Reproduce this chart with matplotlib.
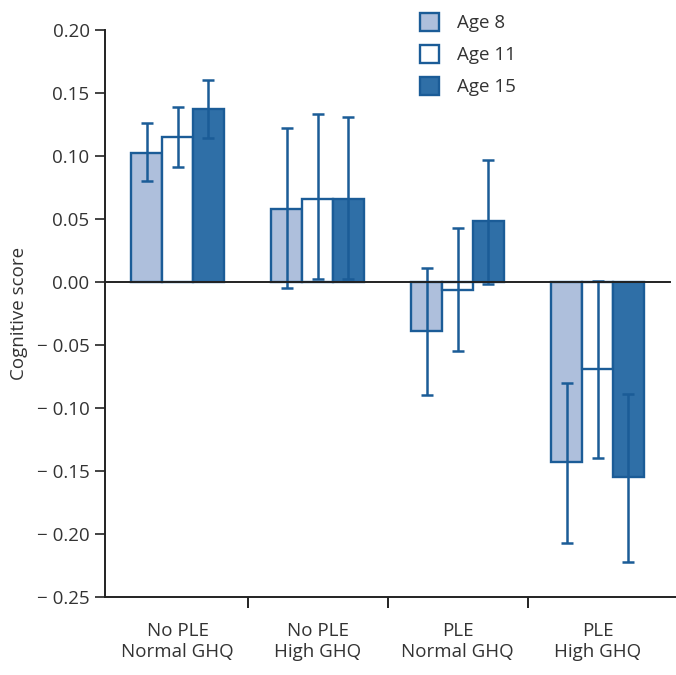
import numpy as np
import matplotlib.pyplot as plt

groups = ['No PLE\nNormal GHQ', 'No PLE\nHigh GHQ', 'PLE\nNormal GHQ', 'PLE\nHigh GHQ']
ages = ['Age 8', 'Age 11', 'Age 15']

# mean cognitive score per group, one list per age
age8 = [0.102, 0.058, -0.039, -0.143]
age11 = [0.115, 0.066, -0.006, -0.069]
age15 = [0.137, 0.066, 0.048, -0.155]

# confidence interval ends
age8_lo = [0.080, -0.005, -0.090, -0.207]
age8_hi = [0.126, 0.122, 0.011, -0.080]
age11_lo = [0.091, 0.002, -0.055, -0.140]
age11_hi = [0.139, 0.133, 0.043, 0.001]
age15_lo = [0.114, 0.002, -0.002, -0.222]
age15_hi = [0.160, 0.131, 0.097, -0.089]

edge = '#1b5c97'
fills = ['#aebfdc', '#ffffff', '#2f6fa7']
txt = '#333333'

plt.rcParams['font.family'] = ['Open Sans', 'DejaVu Sans']

fig = plt.figure(figsize=(6.76, 6.75), dpi=100)
ax = fig.add_axes([0.155, 0.1156, 0.845, 0.84])

x = np.arange(len(groups))
w = 0.22
means = [age8, age11, age15]
los = [age8_lo, age11_lo, age15_lo]
his = [age8_hi, age11_hi, age15_hi]
for i in range(3):
    m = np.array(means[i])
    err = [m - np.array(los[i]), np.array(his[i]) - m]
    pos = x + (i - 1) * w
    ax.bar(pos, m, width=w, color=fills[i], edgecolor=edge, linewidth=1.7,
           label=ages[i], zorder=2)
    ax.errorbar(pos, m, yerr=err, fmt='none', ecolor=edge, elinewidth=1.8,
                capsize=4, capthick=1.8, zorder=3)

ax.axhline(0, color='#222222', linewidth=1.4, zorder=4, xmax=0.99)

ax.set_xlim(-0.52, 3.56)
ax.set_ylim(-0.25, 0.20)
yt = np.arange(-0.25, 0.201, 0.05)
ax.set_yticks(yt)
ax.set_yticklabels(['\u2212 %.2f' % abs(v) if v < -1e-9 else '%.2f' % abs(v) for v in yt])
ax.set_xticks(x[:-1] + 0.5)
ax.set_xticklabels([])
ax.set_xticks(x, minor=True)
ax.set_xticklabels(groups, minor=True)
ax.tick_params(axis='x', which='minor', length=0, pad=18, labelsize=13.5, labelcolor=txt)
ax.tick_params(axis='x', which='major', length=8, width=1.4, color='#222222')
ax.tick_params(axis='y', length=7, width=1.2, color='#222222', labelsize=13.5,
               labelcolor=txt, pad=4)

for s in ['top', 'right']:
    ax.spines[s].set_visible(False)
for s in ['left', 'bottom']:
    ax.spines[s].set_linewidth(1.4)
    ax.spines[s].set_color('#222222')

ax.set_ylabel('Cognitive score', fontsize=13.5, color=txt, labelpad=6)

leg = ax.legend(loc='upper left', bbox_to_anchor=(0.522, 1.06), frameon=False,
                fontsize=13.5, handlelength=1.0, handleheight=1.1,
                labelspacing=0.68, handletextpad=1.0)
for t in leg.get_texts():
    t.set_color(txt)

fig.savefig('out.png', dpi=100)
